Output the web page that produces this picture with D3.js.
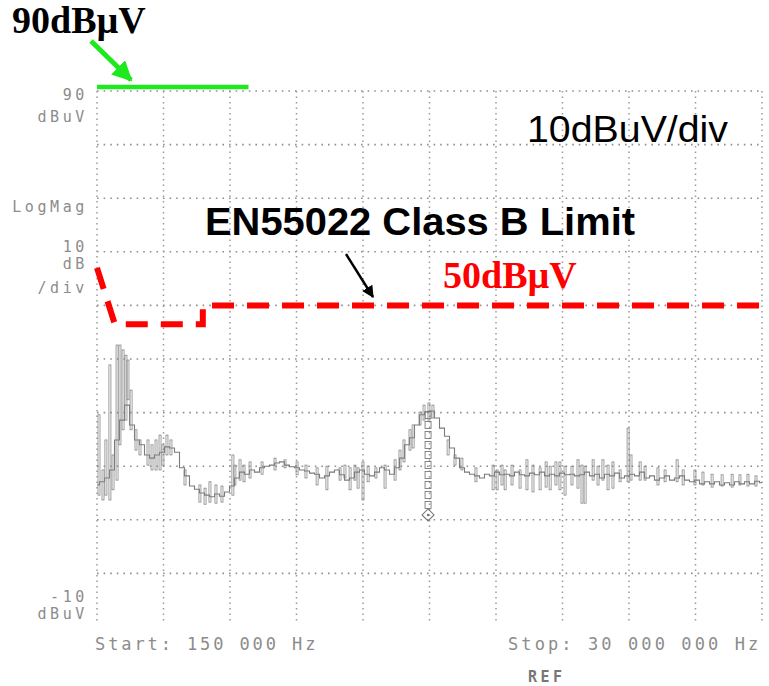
<!DOCTYPE html>
<html><head><meta charset="utf-8">
<script src="https://cdn.jsdelivr.net/npm/d3@7"></script>
<style>
html,body{margin:0;padding:0;background:#fff;}
svg{display:block;}
.mono{font-family:"DejaVu Sans Mono",monospace;fill:#8c8c8c;}
</style></head><body>
<svg id="c" width="769" height="686"></svg>
<script>
// ---------- data ----------
const freqStartMHz = 0.15;
const freqStopMHz = 30;
const refLevel = 90;          // dBuV, top of screen
const bottomLevel = -10;      // dBuV, bottom of screen
const gridDbLevels = [90, 80, 70, 60, 50, 40, 30, 20, 10, 0];
const gridFreqs = [0.15, 3.135, 6.12, 9.105, 12.09, 15.075, 18.06, 21.045, 24.03, 27.015, 30];

// sweep trace (134 points, evenly spaced sweep from start to stop)
const traceDb = [
 16.5,17.1,17.8,19.3,24.9,28.6,31.4,27.7,24.9,24.0,
 22.1,21.5,22.1,22.6,23.6,23.4,22.6,19.7,18.2,16.3,
 15.7,15.0,14.6,14.3,14.8,14.4,15.2,16.3,17.8,18.9,
 18.5,19.3,18.9,19.7,20.0,20.2,20.6,20.8,20.2,19.9,
 19.7,19.3,19.1,18.7,18.5,17.8,18.2,18.9,19.3,18.4,
 17.4,17.8,18.9,19.3,18.5,18.2,18.9,19.7,19.3,18.5,
 19.7,21.5,24.0,25.3,27.7,29.6,30.1,30.3,29.0,27.1,
 25.6,23.4,21.5,19.7,18.9,18.5,18.2,17.8,18.5,18.2,
 18.9,18.4,18.5,18.2,18.9,18.4,18.2,18.7,18.4,18.9,
 18.2,18.5,18.2,18.7,18.4,18.5,18.2,18.4,18.9,18.2,
 18.5,17.8,18.5,18.2,18.7,17.8,18.2,18.5,18.2,18.9,
 17.8,18.2,17.4,17.8,18.2,17.4,17.8,18.2,17.4,17.1,
 17.4,16.7,17.1,16.7,17.1,16.5,16.9,16.5,17.1,16.7,
 17.1,16.7,17.2,16.9
];

// peak-detect spikes: [freq MHz, min dBuV, max dBuV]
const spikes = [
 [0.24,14.6,29.6],[0.42,13.7,19.3],[0.55,14.6,24.9],[0.73,13.7,38.9],[0.87,15.6,22.1],
 [1.05,17.4,42.6],[1.18,24.0,42.6],[1.32,26.8,41.7],[1.45,28.6,40.7],[1.54,32.4,39.8],
 [1.68,26.8,34.2],[1.90,23.0,26.8],[2.08,22.1,24.9],[2.44,20.2,24.9],[2.62,19.3,24.0],
 [2.80,19.3,24.9],[2.98,19.3,25.8],[3.11,20.2,24.0],[3.29,22.1,25.8],[3.47,22.1,24.9],
 [4.10,16.5,19.3],[4.77,13.3,16.5],[5.00,12.9,15.9],[5.22,13.3,17.1],[5.49,13.1,16.5],
 [5.76,13.3,16.3],[6.25,14.6,22.1],[6.34,16.5,20.2],[6.57,17.4,21.2],[6.75,17.1,20.2],
 [7.02,17.8,20.8],[7.56,18.5,20.8],[8.14,19.3,21.5],[8.59,19.7,21.2],[9.13,18.4,20.8],
 [9.53,17.8,20.2],[10.03,16.5,19.7],[10.47,15.6,20.0],[11.06,17.4,19.7],[11.28,17.8,20.2],
 [11.51,15.6,19.7],[11.73,17.4,20.2],[11.87,15.9,19.7],[12.09,13.7,20.8],[12.32,17.1,20.0],
 [12.67,17.8,19.7],[13.08,15.9,20.2],[13.53,17.4,21.2],[13.75,19.3,23.0],[13.93,20.8,24.9],
 [14.20,23.0,26.8],[14.34,23.4,27.7],[14.65,27.7,30.1],[14.83,28.6,31.4],[15.05,28.6,31.8],
 [15.23,29.0,31.4],[15.91,22.1,24.9],[16.22,20.2,22.1],[16.53,19.3,21.5],[17.16,17.1,19.7],
 [17.93,15.6,20.2],[18.11,15.6,19.3],[18.33,16.5,20.2],[18.47,15.6,19.3],[18.78,16.5,20.2],
 [19.14,15.9,19.3],[19.45,15.6,21.2],[19.72,15.2,20.2],[20.04,15.6,19.7],[20.31,16.1,20.8],
 [20.49,15.6,20.0],[20.75,16.5,20.8],[20.93,15.6,20.8],[21.16,14.6,20.0],[21.47,16.5,20.0],
 [21.74,15.9,21.2],[21.92,13.1,20.2],[22.06,13.1,20.0],[22.42,17.4,21.2],[22.64,16.5,20.0],
 [22.86,17.4,21.2],[23.09,15.6,20.2],[23.31,15.9,20.8],[23.63,17.1,19.3],[23.99,17.1,27.1],
 [24.12,17.4,22.1],[24.53,17.4,20.8],[24.75,17.4,20.0],[25.33,16.5,19.7],[25.65,17.1,19.3],
 [26.19,17.1,21.2],[26.46,16.5,19.3],[26.99,16.5,19.3],[27.35,16.5,18.9],[27.76,16.1,18.5],
 [28.21,16.3,18.4],[28.66,16.1,18.5],[29.01,16.5,18.4],[29.37,16.3,18.5],[29.73,16.3,18.2]
];

// EN55022 Class B limit (as drawn)
const limitFreqs = [0.15, 0.95, 4.9, 4.9, 30];
const limitDb    = [57, 46.5, 46.5, 50, 50];

// 90 dBuV reference marker line
const refLineFreqs = [0.15, 6.95];
const refLineDb = 90;

// marker
const markerFreq = 15.01;
const markerTopDb = 30.2;
const markerBottomDb = 12.0;
const markerDiamondDb = 10.9;

// text labels
const leftLabels = [
  {t:"90", db:88.3}, {t:"dBuV", db:84.2}, {t:"LogMag", db:67.4},
  {t:"10", db:60.0}, {t:"dB", db:56.7}, {t:"/div", db:52.4},
  {t:"-10", db:-5.3}, {t:"dBuV", db:-8.6}
];
const startLabel = "Start: 150 000 Hz";
const stopLabel = "Stop: 30 000 000 Hz";

// ---------- chart ----------
const svg = d3.select("#c");
const x = d3.scaleLinear().domain([freqStartMHz, freqStopMHz]).range([97, 762]);
const y = d3.scaleLinear().domain([bottomLevel, refLevel]).range([627, 91]);

const grid = svg.append("g");
grid.selectAll("line.h").data(gridDbLevels).join("line")
  .attr("x1", x(freqStartMHz)).attr("x2", x(freqStopMHz))
  .attr("y1", d => y(d)).attr("y2", d => y(d))
  .attr("stroke", "#8f8f8f").attr("stroke-width", 1.6)
  .attr("stroke-dasharray", "1.6,5");
grid.selectAll("line.v").data(gridFreqs).join("line")
  .attr("x1", d => x(d)).attr("x2", d => x(d))
  .attr("y1", y(refLevel)).attr("y2", y(bottomLevel) - 4)
  .attr("stroke", "#9a9a9a").attr("stroke-width", 1.5)
  .attr("stroke-dasharray", "1.5,4");

// trace
const step = (freqStopMHz - freqStartMHz) / (traceDb.length - 1);
const line = d3.line()
  .x((d, i) => x(freqStartMHz + i * step))
  .y(d => y(d))
  .curve(d3.curveStep);
svg.append("path").datum(traceDb).attr("d", line)
  .attr("fill", "none").attr("stroke", "#7a7a7a").attr("stroke-width", 1.1);

svg.append("g").selectAll("rect").data(spikes).join("rect")
  .attr("x", d => x(d[0]) - 1).attr("width", 2)
  .attr("y", d => y(d[2])).attr("height", d => y(d[1]) - y(d[2]))
  .attr("fill", "none").attr("stroke", "#858585").attr("stroke-width", 0.8);

// marker column & diamond
const mx = x(markerFreq);
const boxH = 7, boxGap = 3;
const boxes = d3.range(y(markerTopDb), y(markerBottomDb) - boxH, boxH + boxGap);
svg.append("g").selectAll("rect").data(boxes).join("rect")
  .attr("x", mx - 3).attr("y", d => d).attr("width", 6).attr("height", boxH)
  .attr("fill", "none").attr("stroke", "#7a7a7a").attr("stroke-width", 0.9);
const dy = y(markerDiamondDb);
svg.append("path")
  .attr("d", `M${mx},${dy-6}L${mx+6},${dy}L${mx},${dy+6}L${mx-6},${dy}Z`)
  .attr("fill", "none").attr("stroke", "#777").attr("stroke-width", 1.1);
svg.append("circle").attr("cx", mx).attr("cy", dy).attr("r", 1.2).attr("fill", "#777");

// left labels
svg.append("g").selectAll("text").data(leftLabels).join("text")
  .attr("class", "mono").attr("x", 88).attr("y", d => y(d.db))
  .attr("text-anchor", "end").attr("font-size", 15).attr("letter-spacing", 3.6)
  .text(d => d.t);
svg.append("text").attr("class", "mono").attr("x", 95).attr("y", 650)
  .attr("font-size", 17).attr("letter-spacing", 2.9).text(startLabel);
svg.append("text").attr("class", "mono").attr("x", 508).attr("y", 650)
  .attr("font-size", 17).attr("letter-spacing", 3.1).text(stopLabel);
svg.append("text").attr("x", 528).attr("y", 682)
  .attr("font-family", "DejaVu Sans Mono, monospace").attr("font-weight", "bold")
  .attr("font-size", 15).attr("letter-spacing", 3.5).attr("fill", "#777").text("REF");

// limit line
const limitPts = limitFreqs.map((f, i) => [x(f), y(limitDb[i])]);
svg.append("path").attr("d", d3.line()(limitPts))
  .attr("fill", "none").attr("stroke", "#ff0000").attr("stroke-width", 6)
  .attr("stroke-dasharray", "22,13");

// 90 dBuV line
svg.append("line")
  .attr("x1", x(refLineFreqs[0])).attr("x2", x(refLineFreqs[1]))
  .attr("y1", y(refLineDb) - 4).attr("y2", y(refLineDb) - 4)
  .attr("stroke", "#1ee81e").attr("stroke-width", 4.5);

// arrows
const defs = svg.append("defs");
defs.append("marker").attr("id", "ag").attr("viewBox", "0 0 10 10")
  .attr("refX", 9).attr("refY", 5).attr("markerWidth", 4).attr("markerHeight", 4)
  .attr("orient", "auto").append("path").attr("d", "M0,0L10,5L0,10Z").attr("fill", "#1ee81e");
defs.append("marker").attr("id", "ab").attr("viewBox", "0 0 10 10")
  .attr("refX", 9).attr("refY", 5).attr("markerWidth", 5).attr("markerHeight", 5)
  .attr("orient", "auto").append("path").attr("d", "M0,0L10,5L0,10Z").attr("fill", "#000");
svg.append("line").attr("x1", 91).attr("y1", 41).attr("x2", 131).attr("y2", 80)
  .attr("stroke", "#1ee81e").attr("stroke-width", 5).attr("marker-end", "url(#ag)");
svg.append("line").attr("x1", 346).attr("y1", 254).attr("x2", 373).attr("y2", 297)
  .attr("stroke", "#000").attr("stroke-width", 2.4).attr("marker-end", "url(#ab)");

// annotations
svg.append("text").attr("x", 12).attr("y", 33)
  .attr("font-family", "Liberation Serif, Times New Roman, serif").attr("font-weight", "bold")
  .attr("font-size", 38).attr("fill", "#000").text("90dBµV");
svg.append("text").attr("x", 527).attr("y", 142)
  .attr("font-family", "Liberation Sans, Arial, sans-serif")
  .attr("font-size", 37).attr("textLength", 201).attr("lengthAdjust", "spacingAndGlyphs")
  .attr("fill", "#000").text("10dBuV/div");
svg.append("text").attr("x", 205).attr("y", 235)
  .attr("font-family", "Liberation Sans, Arial, sans-serif").attr("font-weight", "bold")
  .attr("font-size", 39).attr("textLength", 430).attr("lengthAdjust", "spacingAndGlyphs")
  .attr("fill", "#000").text("EN55022 Class B Limit");
svg.append("text").attr("x", 443).attr("y", 288)
  .attr("font-family", "Liberation Serif, Times New Roman, serif").attr("font-weight", "bold")
  .attr("font-size", 38).attr("fill", "#ff0000").text("50dBµV");
</script>
</body></html>
